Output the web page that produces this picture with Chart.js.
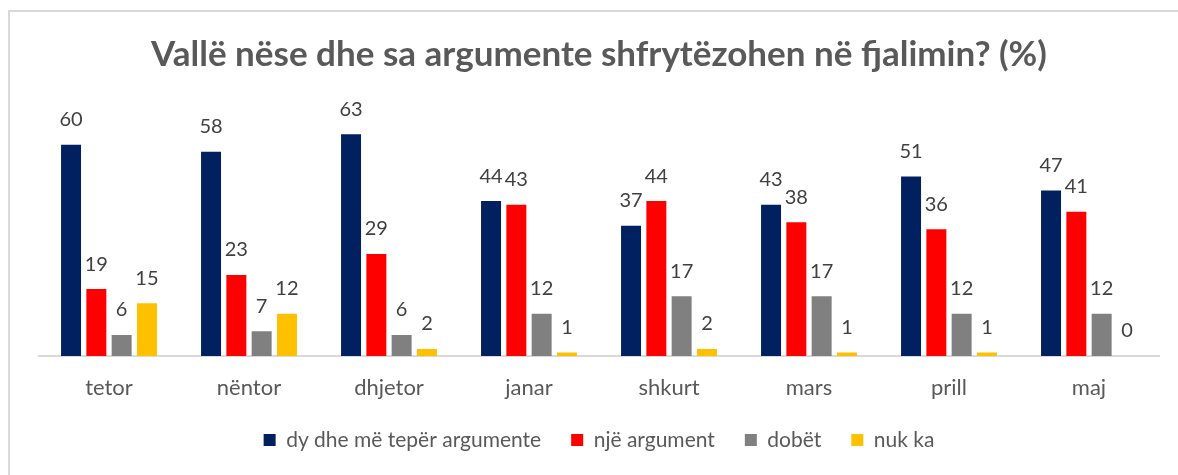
<!DOCTYPE html>
<html>
<head>
<meta charset="utf-8">
<script src="https://cdn.jsdelivr.net/npm/chart.js@4/dist/chart.umd.min.js"></script>
<style>
  html, body { margin: 0; padding: 0; background: #fff; }
  #wrap { position: relative; width: 1178px; height: 475px; overflow: hidden; }
  #frame { position: absolute; left: 8px; top: 10px; width: 1300px; height: 600px;
           border-top: 2px solid #d9d9d9; border-left: 2px solid #d9d9d9; }
  canvas { position: absolute; left: 0; top: 0; }
</style>
</head>
<body>
<div id="wrap">
  <div id="frame"></div>
  <canvas id="chart" width="1178" height="475"></canvas>
</div>
<script>
// muajt
const months = ['tetor', 'nëntor', 'dhjetor', 'janar', 'shkurt', 'mars', 'prill', 'maj'];

// seritë (%)
const seriesNames = ['dy dhe më tepër argumente', 'një argument', 'dobët', 'nuk ka'];
const dyDheMeTeper = [60, 58, 63, 44, 37, 43, 51, 47];
const njeArgument = [19, 23, 29, 43, 44, 38, 36, 41];
const dobet = [6, 7, 6, 12, 17, 17, 12, 12];
const nukKa = [15, 12, 2, 1, 2, 1, 1, 0];

const colors = ['#002060', '#ff0000', '#808080', '#ffc000'];
const FONT = 'Lato, "Open Sans", sans-serif';

// etiketat mbi shtylla
const barLabels = {
  id: 'barLabels',
  afterDatasetsDraw(chart) {
    const ctx = chart.ctx;
    ctx.save();
    ctx.font = '20px ' + FONT;
    ctx.fillStyle = '#404040';
    ctx.textAlign = 'center';
    ctx.textBaseline = 'middle';
    chart.data.datasets.forEach((ds, i) => {
      const meta = chart.getDatasetMeta(i);
      meta.data.forEach((bar, j) => {
        ctx.fillText(String(ds.data[j]), bar.x, bar.y - 25);
      });
    });
    ctx.restore();
  }
};

const allSeries = [dyDheMeTeper, njeArgument, dobet, nukKa];

new Chart(document.getElementById('chart'), {
  type: 'bar',
  data: {
    labels: months,
    datasets: allSeries.map((data, i) => ({
      label: seriesNames[i],
      data,
      backgroundColor: colors[i],
      borderWidth: 0,
      categoryPercentage: 0.723,
      barPercentage: 0.79,
    })),
  },
  options: {
    responsive: false,
    animation: false,
    layout: { padding: { left: 39, right: 19, top: 0, bottom: 14.5 } },
    plugins: {
      title: {
        display: true,
        text: 'Vallë nëse dhe sa argumente shfrytëzohen në fjalimin? (%)',
        color: '#595959',
        font: { family: FONT, size: 35, weight: 'bold', lineHeight: 1.2 },
        padding: { top: 34, bottom: 33.6 },
      },
      legend: {
        position: 'bottom',
        labels: {
          color: '#595959',
          font: { family: FONT, size: 21 },
          boxWidth: 12,
          boxHeight: 12,
          padding: 30,
        },
      },
      tooltip: { enabled: false },
    },
    scales: {
      x: {
        grid: { display: false, drawTicks: false },
        border: { display: true, color: '#d9d9d9', width: 2 },
        ticks: { color: '#595959', font: { family: FONT, size: 22 }, padding: 19 },
        afterFit(scale) { scale.height = 43.5; },
      },
      y: {
        display: false,
        min: 0,
        max: 70,
      },
    },
  },
  plugins: [barLabels],
});
</script>
</body>
</html>
